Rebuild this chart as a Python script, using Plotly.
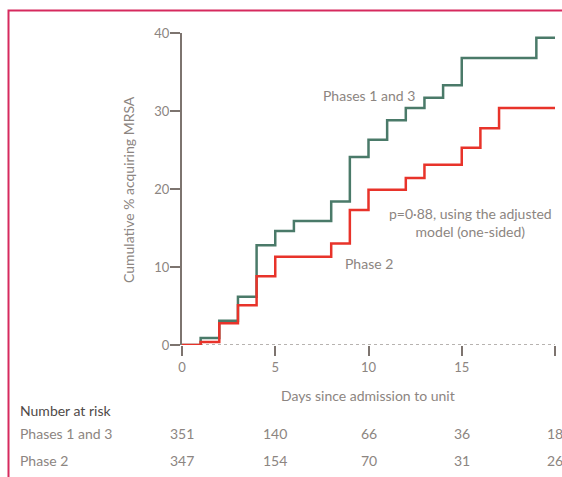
import plotly.graph_objects as go

# Data
days_p13 = [0, 1, 2, 3, 4, 5, 6, 8, 9, 10, 11, 12, 13, 14, 15, 19, 20]
cum_p13 = [0, 0.9, 3.1, 6.2, 12.8, 14.6, 15.9, 18.4, 24.1, 26.3, 28.8, 30.4, 31.7, 33.3, 36.8, 39.4, 39.4]
days_p2 = [0, 1, 2, 3, 4, 5, 8, 9, 10, 12, 13, 15, 16, 17, 20]
cum_p2 = [0, 0.4, 2.8, 5.1, 8.8, 11.3, 13.0, 17.3, 19.9, 21.4, 23.1, 25.3, 27.8, 30.4, 30.4]

risk_days = [0, 5, 10, 15, 20]
risk_p13 = ["351", "140", "66", "36", "18"]
risk_p2 = ["347", "154", "70", "31", "26"]

x_ticks = [0, 5, 10, 15, 20]
y_ticks = [0, 10, 20, 30, 40]

FONT = "Lato"
FS = 14
GRAY = "#8c8581"
AXIS = "#7d746f"
GREEN = "#4a7a69"
RED = "#e8332a"

fig = go.Figure()
fig.add_trace(go.Scatter(x=days_p13, y=cum_p13, mode="lines", line_shape="hv",
                         line=dict(color=GREEN, width=2.5), name="Phases 1 and 3"))
fig.add_trace(go.Scatter(x=days_p2, y=cum_p2, mode="lines", line_shape="hv",
                         line=dict(color=RED, width=2.5), name="Phase 2"))

W, H = 562, 477
L, R, T, B = 182, 7, 33, 132
pw, ph = W - L - R, H - T - B

def px(x):
    return (x - L) / pw

def py(y):
    return (H - B - y) / ph

def font(c=GRAY, s=FS):
    return dict(size=s, color=c, family=FONT)

def ann(text, x, y, xanchor="center", xref="paper", **kw):
    return dict(text=text, x=x, xref=xref, y=py(y), yref="paper", xanchor=xanchor,
                yanchor="middle", showarrow=False, **kw)

annotations = [
    ann("Phases 1 and 3", px(369), 96, font=font()),
    ann("p=0·88, using the adjusted<br>model (one-sided)", px(470), 222, align="center", font=font()),
    ann("Phase 2", px(369), 263, font=font()),
    ann("Cumulative % acquiring MRSA", px(128), 190, textangle=-90, font=font()),
    ann("Days since admission to unit", px(368), 395, font=font()),
    ann("Number at risk", px(18), 410, xanchor="left", font=font("#4f4a48")),
    ann("Phases 1 and 3", px(18), 434, xanchor="left", font=font()),
    ann("Phase 2", px(18), 460, xanchor="left", font=font()),
]

for d, a, b in zip(risk_days, risk_p13, risk_p2):
    annotations.append(ann(a, d, 434, xref="x", font=font()))
    annotations.append(ann(b, d, 460, xref="x", font=font()))

shapes = [
    dict(type="line", xref="x", yref="y", x0=0, x1=20, y0=0, y1=0,
         line=dict(color="#a09a96", width=1.5, dash="dot"), layer="below"),
    dict(type="rect", xref="paper", yref="paper", x0=px(8.5), x1=px(600), y0=py(520), y1=py(10.5),
         line=dict(color="#d62a5e", width=2), fillcolor="rgba(0,0,0,0)"),
]

fig.update_layout(
    width=W, height=H,
    margin=dict(l=L, r=R, t=T, b=B),
    paper_bgcolor="white", plot_bgcolor="white",
    showlegend=False,
    annotations=annotations,
    shapes=shapes,
    xaxis=dict(range=[0, 20], tickvals=x_ticks, ticktext=[str(v) for v in x_ticks],
               showgrid=False, zeroline=False, showline=False,
               ticks="outside", ticklen=10, tickwidth=2, tickcolor=AXIS,
               tickfont=font(s=13)),
    yaxis=dict(range=[0, 40], tickvals=y_ticks, ticktext=[str(v) for v in y_ticks],
               showgrid=False, zeroline=False, showline=True, linecolor=AXIS, linewidth=2,
               ticks="outside", ticklen=10, tickwidth=2, tickcolor=AXIS,
               ticklabelstandoff=-2, tickfont=font(s=13)),
)

fig.write_html("out.html", config={"displayModeBar": False},
               post_script="document.body.style.margin='0';document.body.style.overflow='hidden';")
